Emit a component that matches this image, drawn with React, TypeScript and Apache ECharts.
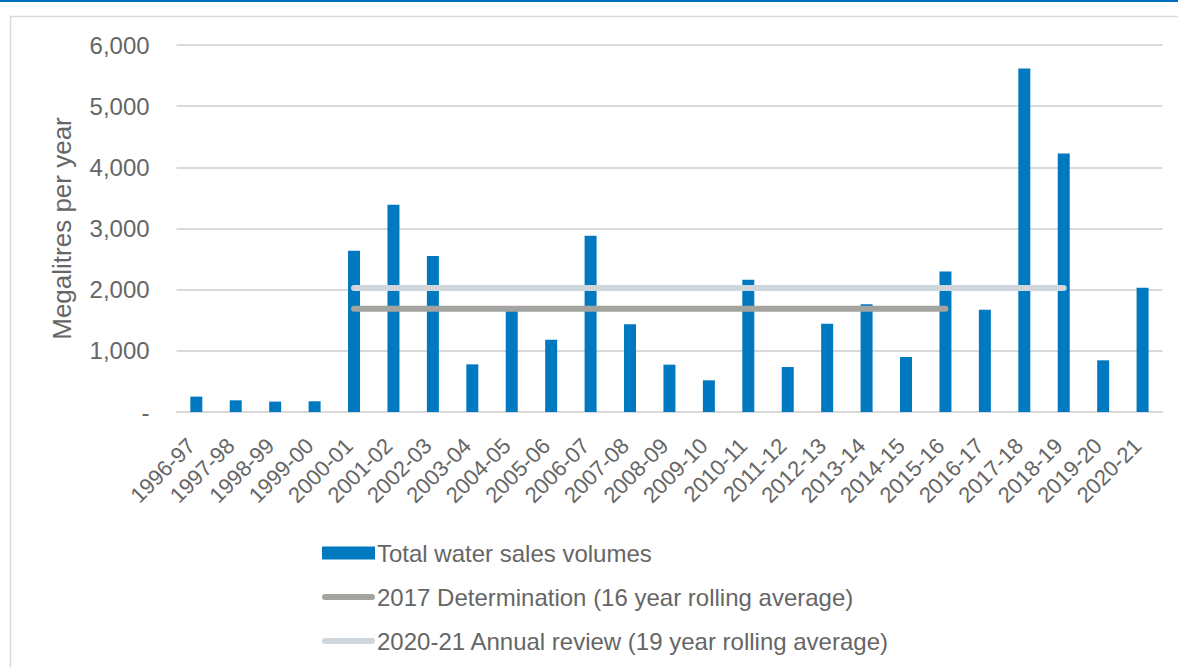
import React, { useEffect, useRef } from "react";
import * as echarts from "echarts";

const categories = [
  "1996-97", "1997-98", "1998-99", "1999-00", "2000-01", "2001-02", "2002-03",
  "2003-04", "2004-05", "2005-06", "2006-07", "2007-08", "2008-09", "2009-10",
  "2010-11", "2011-12", "2012-13", "2013-14", "2014-15", "2015-16", "2016-17",
  "2017-18", "2018-19", "2019-20", "2020-21",
];

const salesVolumes = [
  252, 191, 170, 175, 2637, 3389, 2549, 779, 1690, 1183, 2882, 1433, 774, 518,
  2163, 735, 1444, 1760, 899, 2299, 1673, 5616, 4225, 845, 2033,
];

// 2017 Determination: 16 year rolling average, 2000-01 to 2015-16
const determination2017 = [
  null, null, null, null, 1690, 1690, 1690, 1690, 1690, 1690, 1690, 1690, 1690,
  1690, 1690, 1690, 1690, 1690, 1690, 1690, null, null, null, null, null,
];

// 2020-21 Annual review: 19 year rolling average, 2000-01 to 2018-19
const review2021 = [
  null, null, null, null, 2026, 2026, 2026, 2026, 2026, 2026, 2026, 2026, 2026,
  2026, 2026, 2026, 2026, 2026, 2026, 2026, 2026, 2026, 2026, null, null,
];

const seriesNames = [
  "Total water sales volumes",
  "2017 Determination (16 year rolling average)",
  "2020-21 Annual review (19 year rolling average)",
];

const yTicks = [0, 1000, 2000, 3000, 4000, 5000, 6000];

const FONT = "'Liberation Sans', Arial, sans-serif";
const TEXT = "#666666";
const BAR = "#0079C1";
const GREY = "#A3A49F";
const LIGHT = "#CFD6DC";

const LINE_ICON =
  "path://M0,0 M53,13 M3,3.5 L50,3.5 A3,3 0 0 1 50,9.5 L3,9.5 A3,3 0 0 1 3,3.5 Z";

export default function App() {
  const ref = useRef<HTMLDivElement>(null);

  useEffect(() => {
    if (!ref.current) return;
    const chart = echarts.init(ref.current, null, { renderer: "svg" });
    chart.setOption({
      animation: false,
      backgroundColor: "#ffffff",
      textStyle: { fontFamily: FONT },
      graphic: [
        {
          type: "rect",
          shape: { x: 10.5, y: 16.5, width: 1300, height: 800 },
          style: { fill: "none", stroke: "#D9D9D9", lineWidth: 1.5 },
          silent: true,
          z: -10,
        },
        {
          type: "rect",
          shape: { x: 0, y: 0, width: 1178, height: 2 },
          style: { fill: "#0070C0" },
          silent: true,
        },
      ],
      grid: { left: 176.6, right: 15.7, top: 45, bottom: 255, containLabel: false },
      legend: {
        orient: "vertical",
        left: 317,
        top: 536,
        itemWidth: 53,
        itemHeight: 13,
        itemGap: 20,
        textStyle: { color: TEXT, fontSize: 24, fontFamily: FONT, padding: [0, 0, 0, -3] },
        data: [
          { name: seriesNames[0], icon: "rect", itemStyle: { color: BAR, borderWidth: 0 } },
          { name: seriesNames[1], icon: LINE_ICON, itemStyle: { color: GREY, borderWidth: 0 } },
          { name: seriesNames[2], icon: LINE_ICON, itemStyle: { color: LIGHT, borderWidth: 0 } },
        ],
      },
      xAxis: {
        type: "category",
        data: categories,
        axisLine: { lineStyle: { color: "#D9D9D9", width: 2 } },
        axisTick: { show: false },
        axisLabel: {
          interval: 0,
          rotate: 45,
          margin: 25,
          padding: [0, 7, 0, 0],
          color: TEXT,
          fontSize: 22,
          fontFamily: FONT,
        },
      },
      yAxis: {
        type: "value",
        min: yTicks[0],
        max: yTicks[yTicks.length - 1],
        interval: 1000,
        name: "Megalitres per year",
        nameLocation: "middle",
        nameRotate: 90,
        nameGap: 102,
        nameTextStyle: { color: TEXT, fontSize: 26, fontFamily: FONT },
        axisLine: { show: false },
        axisTick: { show: false },
        splitLine: { lineStyle: { color: "#D9D9D9", width: 2 } },
        axisLabel: {
          margin: 27,
          color: TEXT,
          fontSize: 24,
          fontFamily: FONT,
          formatter: (v: number) => (v === 0 ? "-" : v.toLocaleString("en-US")),
        },
      },
      series: [
        {
          name: seriesNames[0],
          type: "bar",
          data: salesVolumes,
          barWidth: 12,
          itemStyle: { color: BAR },
        },
        {
          name: seriesNames[1],
          type: "line",
          data: determination2017,
          symbol: "none",
          connectNulls: false,
          itemStyle: { color: GREY },
          lineStyle: { color: GREY, width: 6, cap: "round" },
        },
        {
          name: seriesNames[2],
          type: "line",
          data: review2021,
          symbol: "none",
          connectNulls: false,
          itemStyle: { color: LIGHT },
          lineStyle: { color: LIGHT, width: 6, cap: "round" },
        },
      ],
    });
    return () => chart.dispose();
  }, []);

  return (
    <div
      ref={ref}
      style={{ position: "fixed", left: 0, top: 0, width: 1178, height: 667 }}
    />
  );
}
